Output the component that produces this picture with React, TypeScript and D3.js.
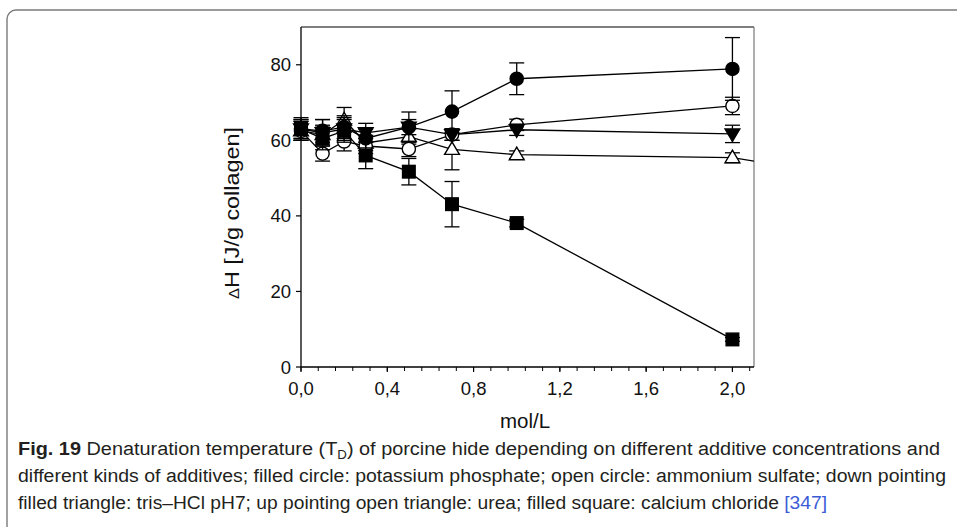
import React from "react";
import * as d3 from "d3";

const concentrations = [0, 0.1, 0.2, 0.3, 0.5, 0.7, 1.0, 2.0];

const potassiumPhosphate = [63, 62.5, 63.5, 60.5, 63.5, 67.6, 76.3, 78.9];
const potassiumErr = [3, 3, 3, 2.5, 4, 5.5, 4.2, 8.3];

const ammoniumSulfate = [62.5, 56.5, 59.7, 58.5, 57.7, 61.5, 64.1, 69.1];
const ammoniumErr = [2.5, 2, 2.5, 2, 2, 1.5, 1.5, 2.3];

const trisHCl = [63, 62, 63, 62, 63.5, 61.5, 62.8, 61.7];
const trisErr = [2.5, 3.5, 3, 2.5, 2, 1.5, 1.5, 2.3];

const ureaX = [0, 0.1, 0.2, 0.3, 0.5, 0.7, 1.0, 2.0, 3.0];
const urea = [62.5, 61.5, 65.4, 59.3, 61, 57.6, 56.2, 55.4, 46.3];
const ureaErr = [2.5, 2.5, 3.3, 2, 2, 5.4, 1, 1.3, 0];

const calciumChloride = [63, 60.5, 62.5, 56, 51.7, 43.1, 38.1, 7.3];
const calciumErr = [2.5, 3, 3, 3.5, 3.5, 6, 1, 0.5];

const yTicks = [0, 20, 40, 60, 80];
const xMajorTicks = [0, 0.4, 0.8, 1.2, 1.6, 2.0];
const xTickLabels = ["0,0", "0,4", "0,8", "1,2", "1,6", "2,0"];
const xMinorStep = 0.08;

const captionLine1Rest = " Denaturation temperature (T";
const captionLine1End = ") of porcine hide depending on different additive concentrations and";
const captionLine2 = "different kinds of additives; filled circle: potassium phosphate; open circle: ammonium sulfate; down pointing";
const captionLine3 = "filled triangle: tris–HCl pH7; up pointing open triangle: urea; filled square: calcium chloride ";

type Shape = "circle" | "square" | "up" | "down";
type Series = { name: string; xs: number[]; ys: number[]; err: number[]; shape: Shape; filled: boolean };

const seriesList: Series[] = [
  { name: "urea", xs: ureaX, ys: urea, err: ureaErr, shape: "up", filled: false },
  { name: "ammonium", xs: concentrations, ys: ammoniumSulfate, err: ammoniumErr, shape: "circle", filled: false },
  { name: "tris", xs: concentrations, ys: trisHCl, err: trisErr, shape: "down", filled: true },
  { name: "potassium", xs: concentrations, ys: potassiumPhosphate, err: potassiumErr, shape: "circle", filled: true },
  { name: "calcium", xs: concentrations, ys: calciumChloride, err: calciumErr, shape: "square", filled: true },
];

const x = d3.scaleLinear().domain([0, 2.1]).range([301, 754]);
const y = d3.scaleLinear().domain([0, 90]).range([367, 27]);

function Marker({ cx, cy, shape, filled }: { cx: number; cy: number; shape: Shape; filled: boolean }) {
  const fill = filled ? "#000" : "#fff";
  const sw = 1.4;
  if (shape === "circle") return <circle cx={cx} cy={cy} r={6.6} fill={fill} stroke="#000" strokeWidth={sw} />;
  if (shape === "square") return <rect x={cx - 6.3} y={cy - 6.3} width={12.6} height={12.6} fill={fill} stroke="#000" strokeWidth={sw} />;
  const h = 12.5, w = 7.4;
  const d = shape === "up"
    ? `M${cx},${cy - h * 0.6} L${cx + w},${cy + h * 0.4} L${cx - w},${cy + h * 0.4} Z`
    : `M${cx},${cy + h * 0.6} L${cx + w},${cy - h * 0.4} L${cx - w},${cy - h * 0.4} Z`;
  return <path d={d} fill={fill} stroke="#000" strokeWidth={sw} />;
}

export default function App() {
  const line = d3.line<[number, number]>().x((d) => x(d[0])).y((d) => y(d[1]));
  const minorTicks = d3.range(0, 2.1 + 1e-9, xMinorStep);
  const font = "'Liberation Sans', Arial, sans-serif";
  return (
    <svg width={957} height={527} style={{ position: "absolute", left: 0, top: 0, background: "#fff" }} fontFamily={font}>
      <defs>
        <clipPath id="plotClip">
          <rect x={301} y={20} width={453} height={360} />
        </clipPath>
      </defs>
      {/* outer rounded frame */}
      <rect x={7} y={10} width={1000} height={600} rx={9} fill="none" stroke="#7a7a7a" strokeWidth={1.4} />

      {/* plot frame */}
      <line x1={301} x2={754} y1={27} y2={27} stroke="#000" strokeWidth={1.2} />
      <line x1={754} x2={754} y1={27} y2={367} stroke="#777" strokeWidth={1.2} />

      {/* series */}
      <g clipPath="url(#plotClip)">
        {seriesList.map((s) => {
          const pts: [number, number][] = s.xs.map((xv, i) => [xv, s.ys[i]]);
          return <path key={s.name + "l"} d={line(pts) || ""} fill="none" stroke="#000" strokeWidth={1.3} />;
        })}
      </g>
      {seriesList.map((s) => (
        <g key={s.name}>
          {s.xs.map((xv, i) => {
            if (xv > 2.1) return null;
            const cx = x(xv);
            const e = s.err[i];
            const yt = y(s.ys[i] + e), yb = y(s.ys[i] - e);
            return (
              <g key={i}>
                {e > 0 && (
                  <g stroke="#000" strokeWidth={1.3}>
                    <line x1={cx} x2={cx} y1={yt} y2={yb} />
                    <line x1={cx - 7.5} x2={cx + 7.5} y1={yt} y2={yt} />
                    <line x1={cx - 7.5} x2={cx + 7.5} y1={yb} y2={yb} />
                  </g>
                )}
                <Marker cx={cx} cy={y(s.ys[i])} shape={s.shape} filled={s.filled} />
              </g>
            );
          })}
        </g>
      ))}

      {/* y axis */}
      <line x1={301} x2={301} y1={27} y2={367} stroke="#000" strokeWidth={1.3} />
      {yTicks.map((t) => (
        <g key={t}>
          <line x1={296} x2={301} y1={y(t)} y2={y(t)} stroke="#000" strokeWidth={1.2} />
          <text x={291} y={y(t) + 6.5} textAnchor="end" fontSize={18.5} fill="#111">{t}</text>
        </g>
      ))}

      {/* x axis */}
      <line x1={301} x2={754} y1={367} y2={367} stroke="#000" strokeWidth={1.3} />
      {minorTicks.map((t, i) => (
        <line key={i} x1={x(t)} x2={x(t)} y1={367} y2={371} stroke="#000" strokeWidth={1} />
      ))}
      {xMajorTicks.map((t, i) => (
        <g key={t}>
          <line x1={x(t)} x2={x(t)} y1={367} y2={372} stroke="#000" strokeWidth={1.2} />
          <text x={x(t)} y={395} textAnchor="middle" fontSize={18.5} fill="#111">{xTickLabels[i]}</text>
        </g>
      ))}

      {/* axis titles */}
      <text transform="translate(239,299) rotate(-90)" fontSize={20} fill="#111" textLength={172} lengthAdjust="spacingAndGlyphs">
        <tspan fontSize={14}>Δ</tspan>H [J/g collagen]
      </text>
      <text x={525} y={428} textAnchor="middle" fontSize={20.5} fill="#111">mol/L</text>

      {/* caption */}
      <g fontSize={18} fill="#231f20">
        <text x={18} y={455} textLength={922} lengthAdjust="spacingAndGlyphs">
          <tspan fontWeight="bold">Fig. 19</tspan>
          <tspan>{captionLine1Rest}</tspan>
          <tspan fontSize={12} dy={4}>D</tspan>
          <tspan dy={-4}>{captionLine1End}</tspan>
        </text>
        <text x={18} y={482} textLength={928} lengthAdjust="spacingAndGlyphs">{captionLine2}</text>
        <text x={18} y={509} textLength={809} lengthAdjust="spacingAndGlyphs">
          <tspan>{captionLine3}</tspan>
          <tspan fill="#3b5bd6">[347]</tspan>
        </text>
      </g>
    </svg>
  );
}
